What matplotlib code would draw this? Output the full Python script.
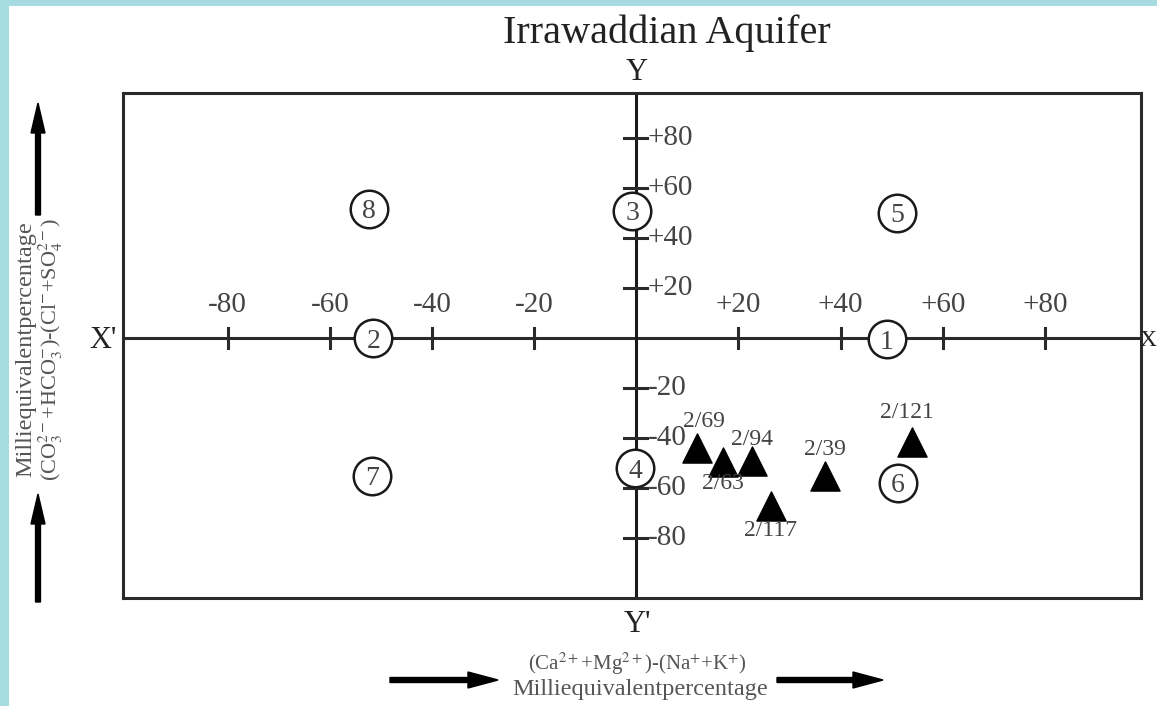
import numpy as np
import matplotlib.pyplot as plt
from matplotlib.patches import Rectangle, FancyArrow

plt.rcParams['font.family'] = ['Liberation Serif', 'DejaVu Serif']
plt.rcParams['mathtext.fontset'] = 'stix'

# Circled field numbers (Durov-type fields)
field_labels = ['1', '2', '3', '4', '5', '6', '7', '8']
field_x = [49, -51.5, -0.8, -0.2, 51, 51.2, -51.8, -52.3]
field_y = [-0.5, 0, 51, -52, 50, -58, -55, 51.6]

# Sample points
sample_ids = ['2/69', '2/63', '2/94', '2/39', '2/117', '2/121']
sample_x = [11.8, 16.9, 22.7, 36.9, 26.3, 53.9]
sample_y = [-44, -49.6, -49, -55, -67, -41.6]

x_ticks = [-80, -60, -40, -20, 20, 40, 60, 80]
y_ticks = [80, 60, 40, 20, -20, -40, -60, -80]

W, H = 1157, 706
fig = plt.figure(figsize=(W / 100, H / 100), dpi=100, facecolor='#a7dbe2')
bg = Rectangle((9 / W, 0), 1 - 9 / W, 1 - 6 / H, transform=fig.transFigure,
               facecolor='white', edgecolor='none', zorder=-5)
fig.patches.append(bg)

ax = fig.add_axes([123 / W, 1 - 598 / H, (1141 - 123) / W, (598 - 93) / H])
ax.set_facecolor('white')
ax.set_xlim(-100.5, 98.8)
ax.set_ylim(-104, 98)
ax.set_xticks([])
ax.set_yticks([])
for s in ax.spines.values():
    s.set_linewidth(2.2)
    s.set_color('#2a2a2a')

tc = '#444444'
# axis lines
ax.axhline(0, color='#2a2a2a', lw=2.2, zorder=1)
ax.axvline(0, color='#1a1a1a', lw=2.2, zorder=1)

for xt in x_ticks:
    ax.plot([xt, xt], [-4, 4], color='#2a2a2a', lw=2.2, zorder=1)
    lab = f'+{xt}' if xt > 0 else f'-{abs(xt)}'
    ax.text(xt, 13, lab, ha='center', va='center', fontsize=21, color=tc)

for yt in y_ticks:
    ax.plot([-2.4, 2], [yt, yt], color='#2a2a2a', lw=2.2, zorder=1)
    lab = f'+{yt}' if yt > 0 else f'-{abs(yt)}'
    ax.text(2.2, yt, lab, ha='left', va='center', fontsize=21, color=tc)

# circled field numbers
ax.scatter(field_x, field_y, s=730, marker='o', facecolor='white',
           edgecolor='#1a1a1a', linewidth=1.8, zorder=3)
for lab, x, y in zip(field_labels, field_x, field_y):
    ax.text(x, y - 1.2, lab, ha='center', va='center', fontsize=20, color=tc, zorder=4)

# samples
ax.scatter(sample_x, sample_y, s=440, marker='^', color='black', zorder=5)
offsets = {'2/69': (1.5, 10.5), '2/63': (0, -8.5), '2/94': (0, 8.5), '2/39': (0, 10.5),
           '2/117': (0, -10), '2/121': (-1, 12)}
for lab, x, y in zip(sample_ids, sample_x, sample_y):
    dx, dy = offsets[lab]
    ax.text(x + dx, y + dy, lab, ha='center', va='center', fontsize=17, color=tc, zorder=6)

# title and axis letters
fig.text(667 / W, 1 - 33 / H, 'Irrawaddian Aquifer', ha='center', va='center', fontsize=29, color='#222')
fig.text(637 / W, 1 - 72 / H, 'Y', ha='center', va='center', fontsize=22, color='#222')
fig.text(637 / W, 1 - 625 / H, "Y'", ha='center', va='center', fontsize=22, color='#222')
fig.text(103 / W, 1 - 340 / H, "X'", ha='center', va='center', fontsize=22, color='#222')
fig.text(1156 / W, 1 - 340 / H, "X", ha='right', va='center', fontsize=17, color='#222')

# left label with arrows
fig.text(26 / W, 1 - 349 / H, 'Milliequivalentpercentage', rotation=90, ha='center',
         va='center', fontsize=17.5, color='#555')
fig.text(51 / W, 1 - 349 / H,
         r'(CO$_3^{2-}$+HCO$_3^{-}$)-(Cl$^{-}$+SO$_4^{2-}$)',
         rotation=90, ha='center', va='center', fontsize=16, color='#555')
aw = dict(color='black', transform=fig.transFigure, length_includes_head=True)
fig.patches.append(FancyArrow(38 / W, 1 - 215 / H, 0, 112 / H, width=5 / H * 0.6,
                              head_width=14 / W, head_length=30 / H, **aw))
fig.patches.append(FancyArrow(38 / W, 1 - 602 / H, 0, 108 / H, width=5 / H * 0.6,
                              head_width=14 / W, head_length=30 / H, **aw))

# bottom label with arrows
fig.text(637 / W, 1 - 664 / H, r'(Ca$^{2+}$+Mg$^{2+}$)-(Na$^{+}$+K$^{+}$)', ha='center',
         va='center', fontsize=15, color='#555')
fig.text(640 / W, 1 - 689 / H, 'Milliequivalentpercentage', ha='center',
         va='center', fontsize=17.5, color='#555')
fig.patches.append(FancyArrow(390 / W, 1 - 680 / H, 108 / W, 0, width=5 / H,
                              head_width=16 / H, head_length=30 / W, **aw))
fig.patches.append(FancyArrow(777 / W, 1 - 680 / H, 106 / W, 0, width=5 / H,
                              head_width=16 / H, head_length=30 / W, **aw))

fig.savefig('out.png', dpi=100, facecolor=fig.get_facecolor())
